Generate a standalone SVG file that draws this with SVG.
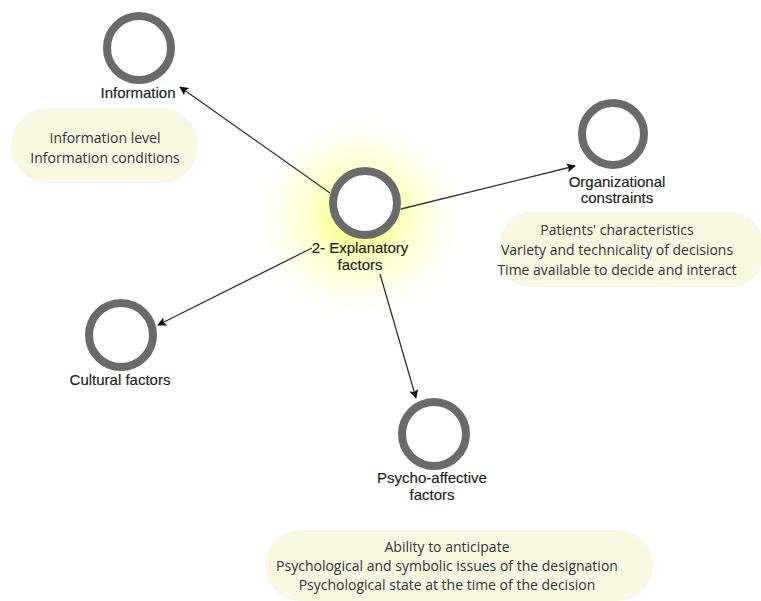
<svg xmlns="http://www.w3.org/2000/svg" width="761" height="601" viewBox="0 0 761 601">
<defs>
<radialGradient id="glow" cx="50%" cy="50%" r="50%">
<stop offset="0" stop-color="#ffff55" stop-opacity="0.95"/>
<stop offset="0.4" stop-color="#ffff88" stop-opacity="0.55"/>
<stop offset="1" stop-color="#ffffcc" stop-opacity="0"/>
</radialGradient>
<marker id="arr" viewBox="0 0 10 10" refX="9" refY="5" markerWidth="9" markerHeight="9" markerUnits="userSpaceOnUse" orient="auto">
<path d="M0,0 L10,5 L0,10 L2,5 z" fill="#111"/>
</marker>
<style>
.ring{fill:#fff;stroke:#6a6a6a;stroke-width:8}
.lbl{font-family:"Liberation Sans",Arial,sans-serif;font-size:15px;fill:#1a1a1a;text-anchor:middle;stroke:#1a1a1a;stroke-width:0.15}
.box{fill:#f8f8e2}
.bt{font-family:"Open Sans","Noto Sans",sans-serif;font-size:14px;fill:#333;text-anchor:middle}
.conn{stroke:#333;stroke-width:1.3;fill:none;marker-end:url(#arr)}
</style>
</defs>
<rect width="761" height="601" fill="#fff"/>
<ellipse cx="360" cy="218" rx="105" ry="100" fill="url(#glow)"/>
<g id="connectors">
<line class="conn" x1="330" y1="193" x2="180" y2="87"/>
<line class="conn" x1="401" y1="209" x2="575" y2="166"/>
<line class="conn" x1="312" y1="248" x2="158" y2="325"/>
<line class="conn" x1="380" y1="274" x2="416" y2="398"/>
</g>
<g id="center">
<circle class="ring" cx="365" cy="203" r="32"/>
<text class="lbl" x="360" y="253">2- Explanatory</text>
<text class="lbl" x="360" y="270">factors</text>
</g>
<g id="information">
<circle class="ring" cx="139" cy="48" r="32"/>
<text class="lbl" x="138" y="98">Information</text>
</g>
<g id="information-box">
<rect class="box" x="11" y="108" width="187" height="75" rx="37"/>
<text class="bt" x="105" y="143">Information level</text>
<text class="bt" x="105" y="163">Information conditions</text>
</g>
<g id="organizational">
<circle class="ring" cx="613" cy="134" r="31"/>
<text class="lbl" x="617" y="187">Organizational</text>
<text class="lbl" x="617" y="203">constraints</text>
</g>
<g id="organizational-box">
<rect class="box" x="500" y="212" width="262" height="75" rx="30"/>
<text class="bt" x="617" y="235">Patients' characteristics</text>
<text class="bt" x="617" y="255">Variety and technicality of decisions</text>
<text class="bt" x="617" y="275">Time available to decide and interact</text>
</g>
<g id="cultural">
<circle class="ring" cx="121" cy="335" r="32"/>
<text class="lbl" x="120" y="385">Cultural factors</text>
</g>
<g id="psycho">
<circle class="ring" cx="434" cy="434" r="32"/>
<text class="lbl" x="432" y="483">Psycho-affective</text>
<text class="lbl" x="432" y="500">factors</text>
</g>
<g id="psycho-box">
<rect class="box" x="265" y="530" width="388" height="71" rx="35"/>
<text class="bt" x="447" y="552">Ability to anticipate</text>
<text class="bt" x="447" y="571">Psychological and symbolic issues of the designation</text>
<text class="bt" x="447" y="590">Psychological state at the time of the decision</text>
</g>
</svg>
